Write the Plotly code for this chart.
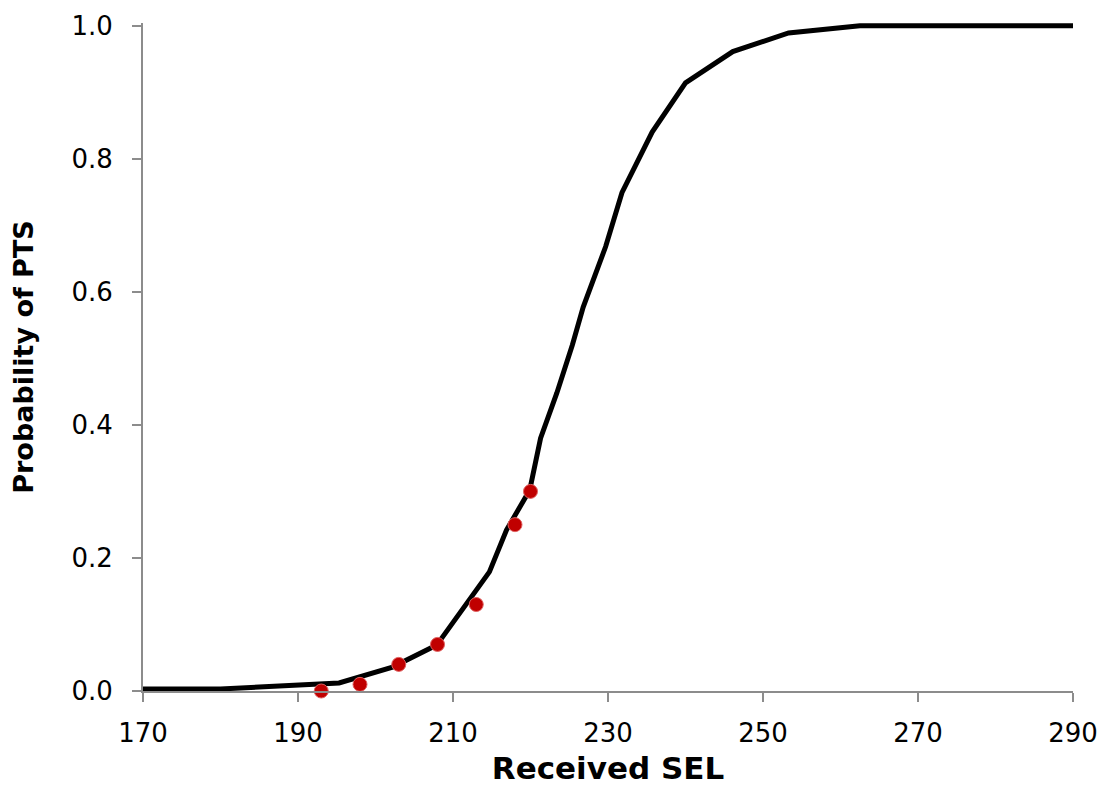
import plotly.graph_objects as go

# Fitted dose-response curve
curve_sel = [170, 180, 195.3, 202.2, 207.9, 214.7, 216.9, 219.9, 221.3, 223.4, 225.4,
             226.8, 229.7, 231.8, 235.7, 240, 246.1, 253.3, 262.5, 290]
curve_prob = [0.003, 0.003, 0.012, 0.036, 0.069, 0.179, 0.242, 0.302, 0.38, 0.448, 0.52,
              0.577, 0.668, 0.749, 0.840, 0.914, 0.961, 0.989, 1.0, 1.0]

# Observed points
obs_sel = [193, 198, 203, 208, 213, 218, 220]
obs_prob = [0.0, 0.01, 0.04, 0.07, 0.13, 0.25, 0.30]

x_ticks = [170, 190, 210, 230, 250, 270, 290]
y_ticks = [0.0, 0.2, 0.4, 0.6, 0.8, 1.0]
y_tick_text = ["0.0", "0.2", "0.4", "0.6", "0.8", "1.0"]

fig = go.Figure()
fig.add_trace(go.Scatter(
    x=curve_sel, y=curve_prob, mode="lines",
    line=dict(color="black", width=5),
    showlegend=False, hoverinfo="skip"))
fig.add_trace(go.Scatter(
    x=obs_sel, y=obs_prob, mode="markers",
    marker=dict(size=14, color="#C00000", line=dict(color="#E06060", width=1)),
    cliponaxis=False, showlegend=False))

axis_common = dict(
    showgrid=False, zeroline=False, showline=True, linecolor="#8c8c8c", linewidth=2,
    ticks="outside", ticklen=9, tickwidth=2, tickcolor="#8c8c8c", automargin=False,
    tickfont=dict(family="DejaVu Sans", size=26, color="black"),
)

fig.update_layout(
    width=1110, height=789,
    margin=dict(l=135, r=45, t=15, b=106),
    paper_bgcolor="white", plot_bgcolor="white",
    xaxis=dict(range=[170, 290], tickvals=x_ticks, ticklabelstandoff=9,
               title=dict(text="<b>Received SEL</b>", standoff=10,
                          font=dict(family="DejaVu Sans", size=31, color="black")),
               **axis_common),
    yaxis=dict(range=[0, 1.004], tickvals=y_ticks, ticktext=y_tick_text, ticklabelstandoff=14,
               title=dict(text="<b>Probability of PTS</b>", standoff=31,
                          font=dict(family="DejaVu Sans", size=27, color="black")),
               **axis_common),
)

fig.write_html("out.html")
